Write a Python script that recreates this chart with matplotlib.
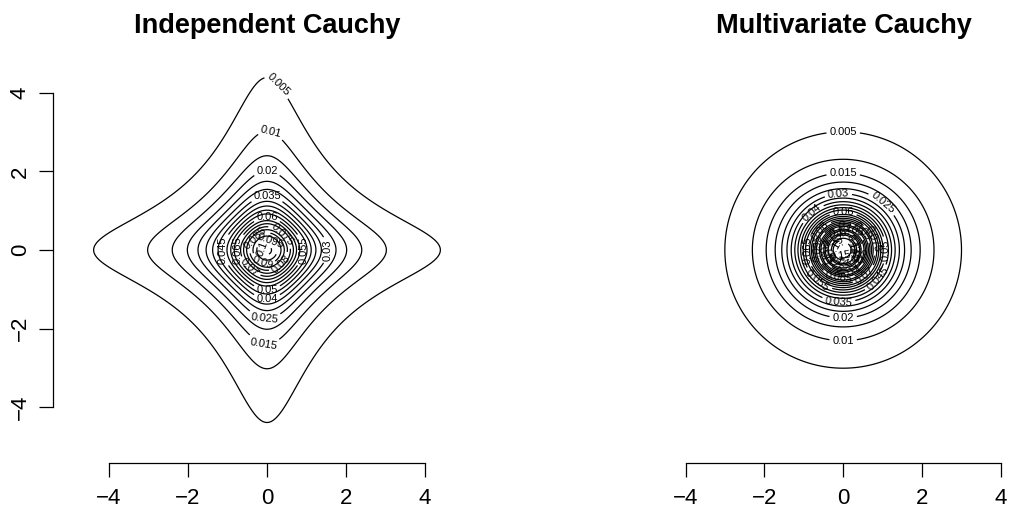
import numpy as np
import matplotlib
matplotlib.use("Agg")
import matplotlib.pyplot as plt

plt.rcParams['font.family'] = ['Liberation Sans', 'DejaVu Sans']

# ---- data ----
titles = ["Independent Cauchy", "Multivariate Cauchy"]
ticks = [-4, -2, 0, 2, 4]
grid_range = [-5.0, 5.0]
levels = [0.005, 0.01, 0.015, 0.02, 0.025, 0.03, 0.035, 0.04, 0.045, 0.05,
          0.055, 0.06, 0.065, 0.07, 0.075, 0.08, 0.085, 0.09, 0.095, 0.1,
          0.105, 0.11, 0.115, 0.12, 0.125, 0.13, 0.135, 0.14, 0.145, 0.15,
          0.155]
# direction (degrees) from the centre at which each level's label sits
label_dirs_ind = [86, 88, 268, 90, 268, 0, 90, 270, 180, 270, 0, 90, 180,
                  225, 45, 315, 135, 250, 70, 160]
label_dirs_mv = [90, 270, 90, 270, 50, 95, 265, 130, 320, 0, 230, 90, 180,
                 310, 20, 140, 260, 45, 175, 300, 70, 200, 330, 100, 225,
                 355, 125, 250, 15, 150, 280]


def dens_ind(x, y):
    return 1.0 / (np.pi**2 * (1 + x**2) * (1 + y**2))


def dens_mv(x, y):
    return 1.0 / (2 * np.pi * (1 + x**2 + y**2) ** 1.5)


g = np.linspace(grid_range[0], grid_range[1], 401)
X, Y = np.meshgrid(g, g)

W, H = 1010, 508
fig = plt.figure(figsize=(W / 100, H / 100), dpi=100)


def px_axes(x0, x1, y0, y1):
    return fig.add_axes([x0 / W, 1 - y1 / H, (x1 - x0) / W, (y1 - y0) / H])


def point_on_level(f, lev, deg):
    c, s = np.cos(np.radians(deg)), np.sin(np.radians(deg))
    lo, hi = 0.0, 5.0
    for _ in range(60):
        mid = 0.5 * (lo + hi)
        if f(mid * c, mid * s) > lev:
            lo = mid
        else:
            hi = mid
    r = 0.5 * (lo + hi)
    return (r * c, r * s)


ax1 = px_axes(53, 481, 37, 463)
ax1.set_xlim(-5.418, 5.418)
ax1.set_ylim(-5.42, 5.42)
ax2 = px_axes(630, 1010, 37, 463)
ax2.set_xlim(-5.418, 4.24)
ax2.set_ylim(-5.42, 5.42)

for ax, f, dirs in ((ax1, dens_ind, label_dirs_ind),
                    (ax2, dens_mv, label_dirs_mv)):
    Z = f(X, Y)
    lv = [l for l in levels if l < Z.max()]
    cs = ax.contour(X, Y, Z, levels=lv, colors='black', linewidths=0.9)
    pos = [point_on_level(f, l, d) for l, d in zip(lv, dirs)]
    ax.clabel(cs, inline=True, fmt='%g', fontsize=8, inline_spacing=3,
              manual=pos)
    for s in ('top', 'right'):
        ax.spines[s].set_visible(False)
    ax.spines['bottom'].set_bounds(-4, 4)
    ax.spines['bottom'].set_linewidth(0.9)
    ax.set_xticks(ticks)
    ax.tick_params(axis='x', direction='out', length=10, width=0.9,
                   labelsize=16, pad=8)

ax1.spines['left'].set_bounds(-4, 4)
ax1.spines['left'].set_linewidth(0.9)
ax1.set_yticks(ticks)
ax1.tick_params(axis='y', direction='out', length=10, width=0.9,
                labelsize=16, pad=6)
for lab in ax1.get_yticklabels():
    lab.set_rotation(90)
    lab.set_va('center')

ax2.spines['left'].set_visible(False)
ax2.set_yticks([])

fig.text(267 / W, 1 - 33 / H, titles[0], ha='center', va='baseline',
         fontsize=19.5, fontweight='bold')
fig.text(843.5 / W, 1 - 33 / H, titles[1], ha='center', va='baseline',
         fontsize=19.5, fontweight='bold')

fig.savefig("out.png", dpi=100)
